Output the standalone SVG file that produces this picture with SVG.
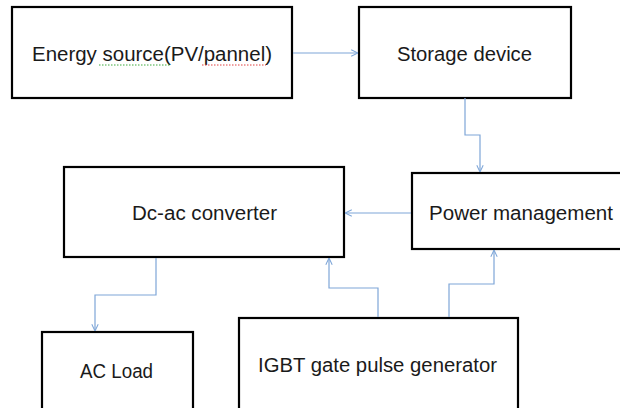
<svg xmlns="http://www.w3.org/2000/svg" width="620" height="408" viewBox="0 0 620 408">
<style>
.box{fill:#fff;stroke:#000;stroke-width:2.2}
.lbl{font-family:"Liberation Sans",Arial,sans-serif;font-size:20px;fill:#1a1a1a}
.con{fill:none;stroke:#7ea6d8;stroke-width:1.2}
.sq{fill:none;stroke-width:1;stroke-dasharray:1.5 1.5}
</style>
<defs>
<marker id="arr" viewBox="0 0 10 10" refX="9.5" refY="5" markerWidth="8" markerHeight="8" markerUnits="userSpaceOnUse" orient="auto">
<path d="M1,1 L9.5,5 L1,9" fill="none" stroke="#7ea6d8" stroke-width="1.3"/>
</marker>
</defs>
<rect width="620" height="408" fill="#fff"/>
<g id="energy">
<rect class="box" x="12" y="7" width="280" height="91"/>
<text class="lbl" x="32" y="61" textLength="240" lengthAdjust="spacingAndGlyphs">Energy source(PV/pannel)</text>
<path class="sq" d="M99,65 H170" stroke="#3daa3d"/>
<path class="sq" d="M202,65 H266" stroke="#e04040"/>
</g>
<g id="storage">
<rect class="box" x="359" y="7" width="212" height="91"/>
<text class="lbl" x="397" y="61" textLength="135" lengthAdjust="spacingAndGlyphs">Storage device</text>
</g>
<g id="power">
<rect class="box" x="412" y="173" width="215" height="76"/>
<text class="lbl" x="429" y="220" textLength="184" lengthAdjust="spacingAndGlyphs">Power management</text>
</g>
<g id="dcac">
<rect class="box" x="64" y="167" width="280" height="90"/>
<text class="lbl" x="132" y="220" textLength="145" lengthAdjust="spacingAndGlyphs">Dc-ac converter</text>
</g>
<g id="acload">
<rect class="box" x="42" y="332" width="151" height="80"/>
<text class="lbl" x="80" y="378" textLength="73" lengthAdjust="spacingAndGlyphs">AC Load</text>
</g>
<g id="igbt">
<rect class="box" x="239" y="318" width="279" height="94"/>
<text class="lbl" x="258" y="372" textLength="239" lengthAdjust="spacingAndGlyphs">IGBT gate pulse generator</text>
</g>
<g id="connectors">
<path class="con" d="M293,53 H358" marker-end="url(#arr)"/>
<path class="con" d="M465,98 V135 H480 V172" marker-end="url(#arr)"/>
<path class="con" d="M411,213 H345" marker-end="url(#arr)"/>
<path class="con" d="M156,258 V295 H95 V331" marker-end="url(#arr)"/>
<path class="con" d="M378,317 V288 H329 V258" marker-end="url(#arr)"/>
<path class="con" d="M449,317 V284 H494 V250" marker-end="url(#arr)"/>
</g>
</svg>
